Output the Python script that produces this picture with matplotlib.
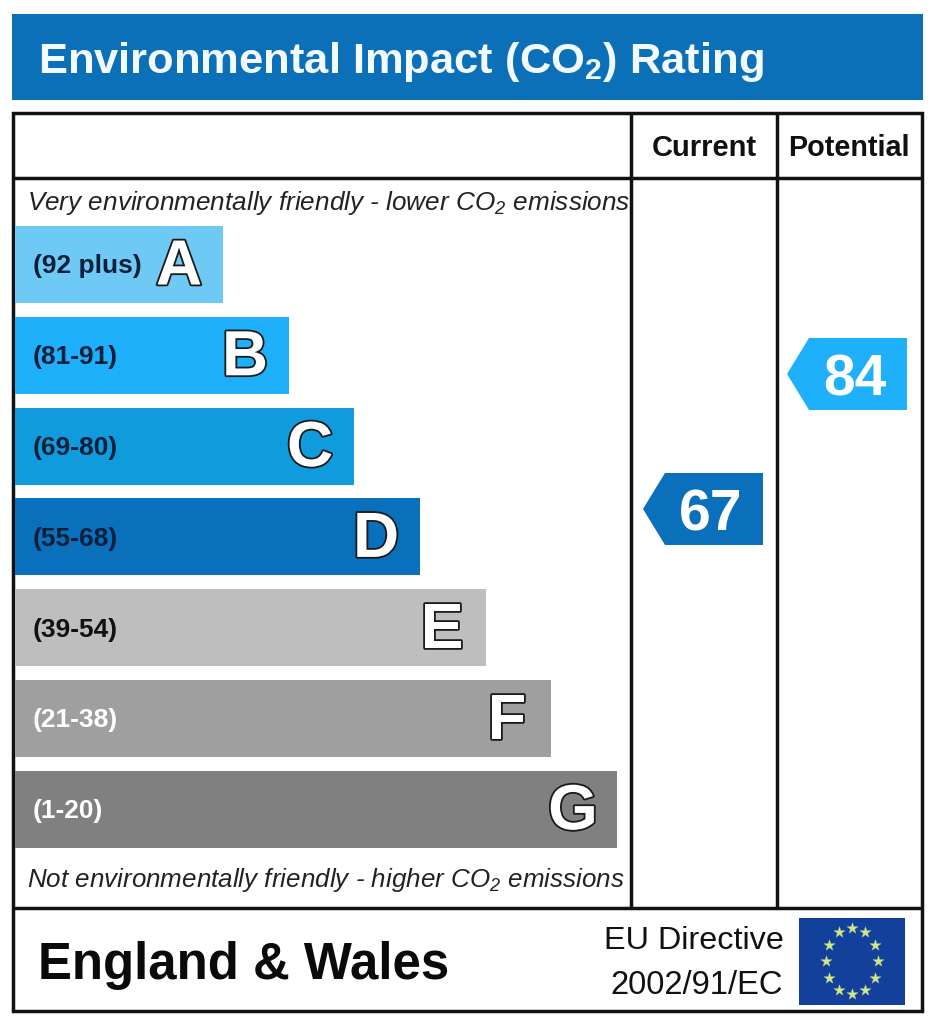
import numpy as np
import matplotlib
matplotlib.use("Agg")
import matplotlib.pyplot as plt
from matplotlib.patches import Rectangle, Polygon
import matplotlib.patheffects as pe

SANS = "Liberation Sans"
plt.rcParams['font.family'] = [SANS, 'DejaVu Sans']
plt.rcParams['mathtext.fontset'] = 'custom'
plt.rcParams['mathtext.rm'] = SANS
plt.rcParams['mathtext.it'] = SANS + ':italic'
plt.rcParams['mathtext.bf'] = SANS + ':bold'

# data
letters = ["A", "B", "C", "D", "E", "F", "G"]
ranges = ["(92 plus)", "(81-91)", "(69-80)", "(55-68)", "(39-54)", "(21-38)", "(1-20)"]
bar_lengths = [208, 274, 339, 405, 471, 536, 602]
bar_colors = ["#6EC9F5", "#1EB0FA", "#0F9BDC", "#0A70BC", "#BEBEBE", "#9F9F9F", "#808080"]
range_colors = ["#0B1F3A", "#0B1F3A", "#0B1F3A", "#0B1F3A", "#111111", "#FFFFFF", "#FFFFFF"]
current = 67
potential = 84

title = r"Environmental Impact (CO$\mathregular{_2}$) Rating"
top_note = r"Very environmentally friendly - lower CO$\mathregular{_2}$ emissions"
bottom_note = r"Not environmentally friendly - higher CO$\mathregular{_2}$ emissions"

fig = plt.figure(figsize=(9.33, 10.24), dpi=100, facecolor="white")
ax = fig.add_axes([0, 0, 1, 1])
ax.set_xlim(0, 933)
ax.set_ylim(1024, 0)
ax.axis("off")

BLUE = "#0B70B8"
# title band
ax.add_patch(Rectangle((12, 14), 911, 86, fc=BLUE, ec="none"))
ax.text(38, 62, title, color="#F2FAFF", fontsize=31.3, fontweight="bold",
        va="center", ha="left")

# frame
LW = 2.5
K = "#111111"
ax.add_patch(Rectangle((12.5, 113), 909.5, 898, fc="none", ec=K, lw=LW))
for xs, ys in [([12.5, 922], [178, 178]), ([12.5, 922], [908, 908]),
               ([631, 631], [113, 908]), ([777, 777], [113, 908])]:
    ax.plot(xs, ys, color=K, lw=LW, solid_capstyle="butt")

ax.text(704.5, 148, "Current", fontsize=21, fontweight="bold",
        ha="center", va="center", color=K)
ax.text(849, 148, "Potential", fontsize=20.7, fontweight="bold",
        ha="center", va="center", color=K)

ax.text(27, 203, top_note, fontsize=18.8, style="italic",
        ha="left", va="center", color="#222222")
ax.text(27, 880, bottom_note, fontsize=18.7, style="italic",
        ha="left", va="center", color="#222222")

# bars
y = 264.5 + 90.8 * np.arange(len(letters))
ax.barh(y, bar_lengths, height=77, left=15, color=bar_colors, edgecolor="none")
outline = [pe.withStroke(linewidth=2.6, foreground="#1A1A1A")]
for yi, ln, r, rc, l in zip(y, bar_lengths, ranges, range_colors, letters):
    ax.text(33, yi + 2, r, fontsize=19, fontweight="bold", color=rc,
            ha="left", va="center")
    ax.text(15 + ln - 44, yi + 3, l, fontsize=46, fontweight="bold",
            color="white", ha="center", va="center", path_effects=outline)

# arrows
def arrow(x_right, score, col, label):
    yc = 374 + (84 - score) * 7.94
    tip = x_right - 120
    ax.add_patch(Polygon([(tip, yc), (tip + 22, yc - 36), (x_right, yc - 36),
                          (x_right, yc + 36), (tip + 22, yc + 36)],
                         closed=True, fc=col, ec="none"))
    ax.text((tip + x_right) / 2 + 8, yc + 7, str(label), color="white", fontsize=41,
            fontweight="bold", ha="center", va="center")

arrow(763, current, bar_colors[3], current)
arrow(907, potential, bar_colors[1], potential)

# footer
ax.text(38, 965, "England & Wales", fontsize=36.6, fontweight="bold",
        ha="left", va="center", color="#0A0A0A")
ax.text(784, 941, "EU Directive", fontsize=23.3, ha="right", va="center", color=K)
ax.text(783, 986, "2002/91/EC", fontsize=23.6, ha="right", va="center", color=K)

# EU flag
ax.add_patch(Rectangle((799, 918), 106, 87, fc="#13409A", ec="none"))
ang = np.deg2rad(np.arange(12) * 30)
ax.scatter(852 + 26 * np.sin(ang), 961 - 33 * np.cos(ang), marker="*", s=70,
           color="#D6E68A", edgecolors="#A9D08E", linewidths=0.3, zorder=3)

fig.savefig("out.png", dpi=100, facecolor="white")
